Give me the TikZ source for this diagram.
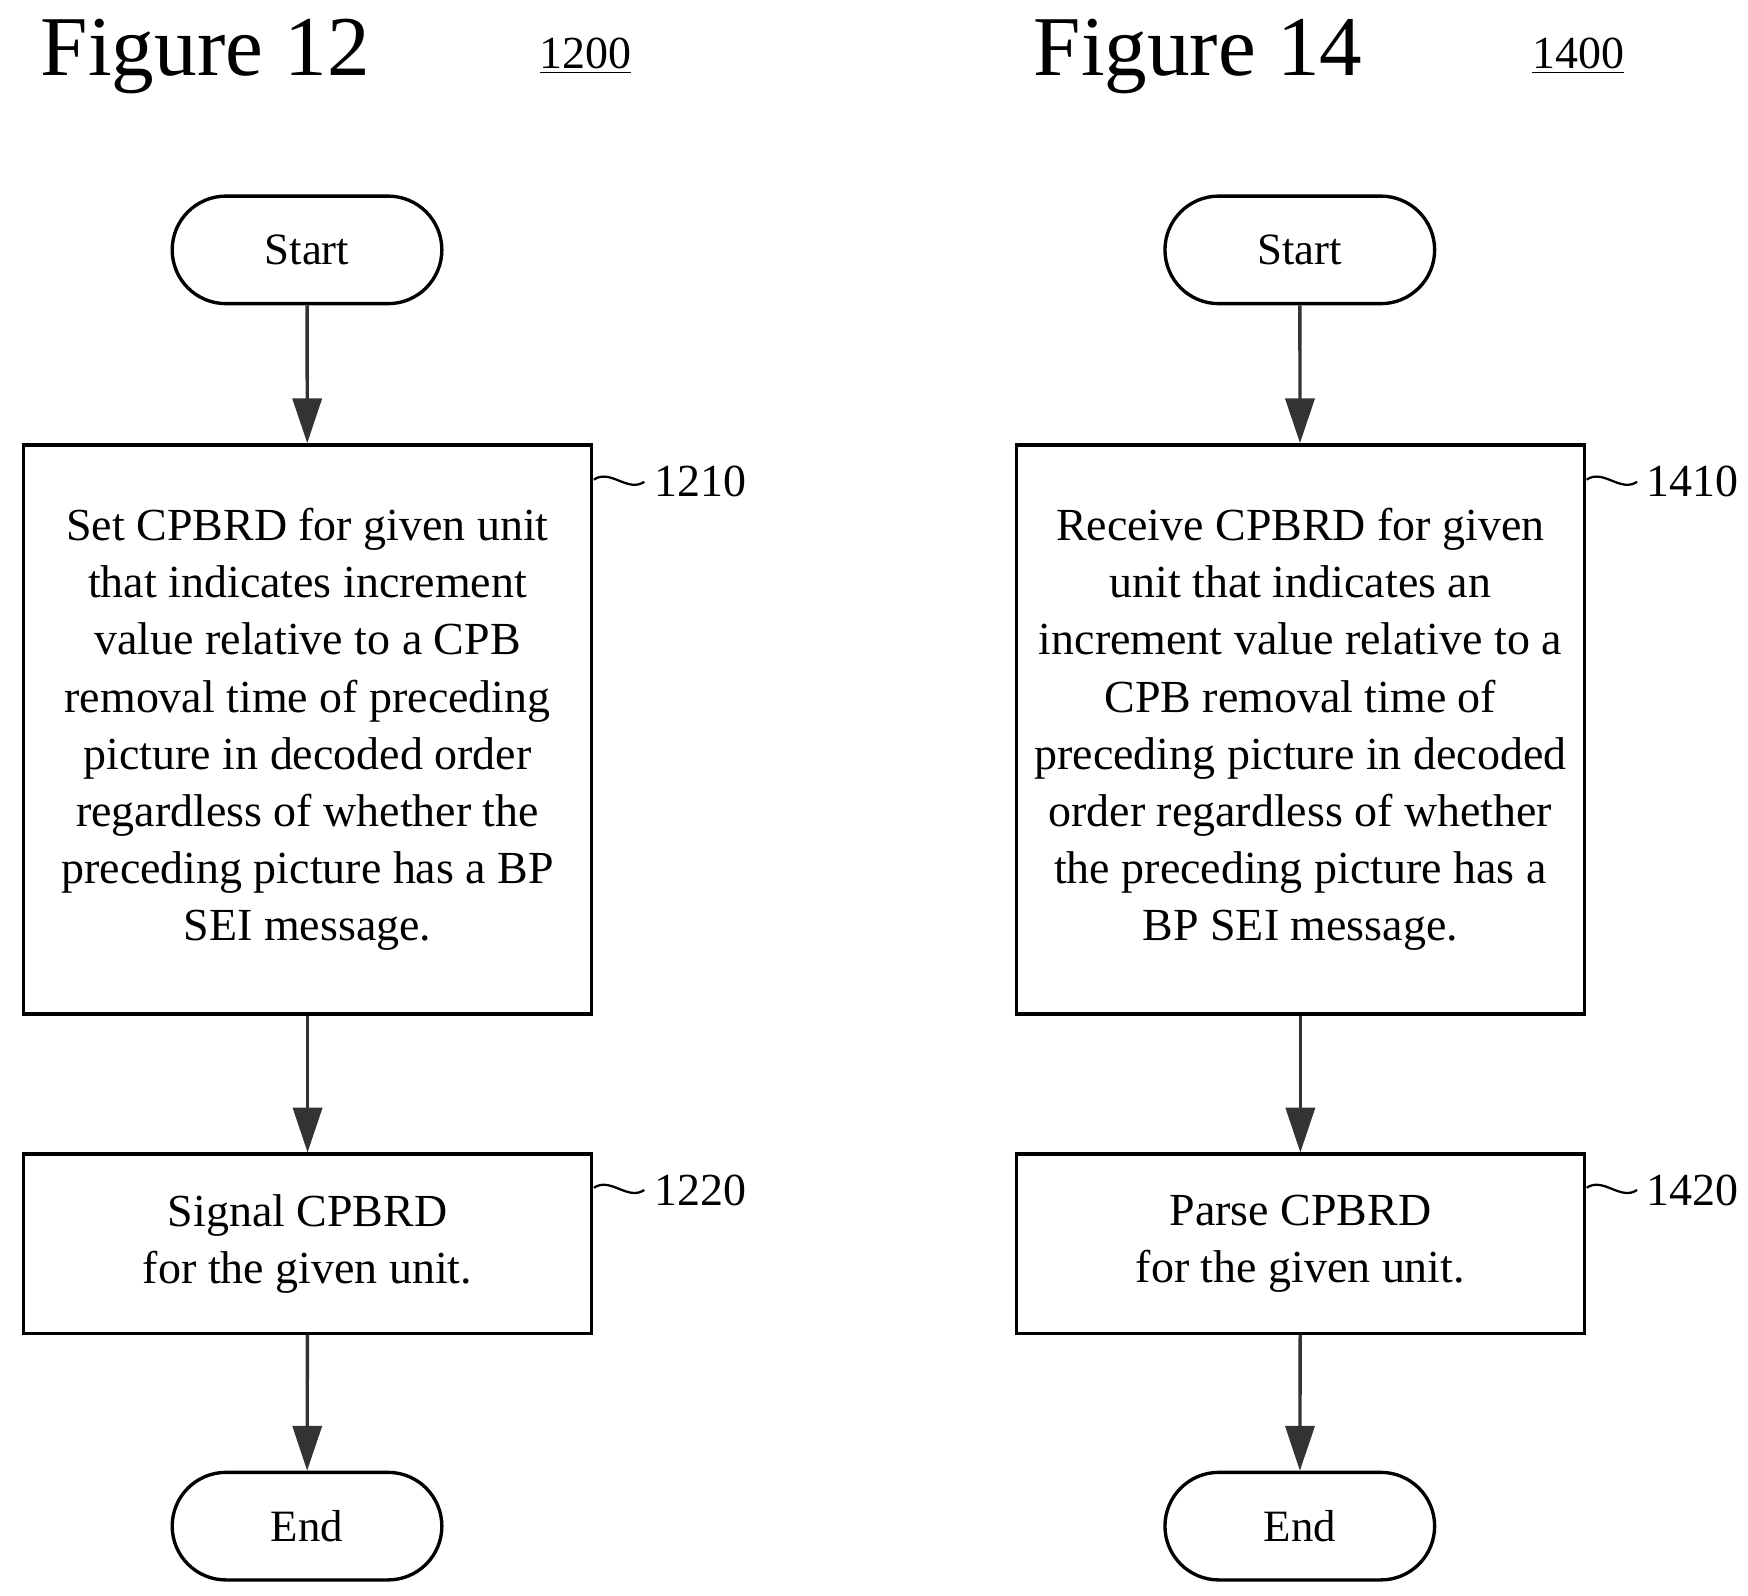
\documentclass[tikz,border=0pt]{standalone}
\usepackage{fontspec}
\setmainfont{Liberation Serif}
\usetikzlibrary{arrows.meta,shapes.misc}
\tikzset{every picture/.style={line width=1.5pt}}
\tikzset{
  term/.style={draw,rounded rectangle,minimum width=127pt,minimum height=48pt,font=\fontsize{20}{24}\selectfont},
  procbox/.style={draw,rectangle,minimum width=253.5pt,align=center,inner sep=0pt,font=\fontsize{20.5}{25.5}\selectfont},
  flow/.style={-{Triangle[width=13pt,length=20pt]},color=black!80},
  refnum/.style={anchor=west,inner sep=0pt,font=\fontsize{20.5}{24}\selectfont},
  title/.style={anchor=west,inner sep=0pt,font=\fontsize{38}{40}\selectfont},
}

\begin{document}
\begin{tikzpicture}[x=0.5pt,y=0.5pt,yscale=-1,xscale=1]
\useasboundingbox (0,0) rectangle (1560,1424);

% Figure 12
\node [title] (t12) at (35,50) {Figure 12};
\node [refnum] (n1200) at (480,50) {\underline{1200}};
\node [term] (s12) at (274,223) {Start};
\node [procbox,minimum height=254pt] (b1210) at (274.5,651) {Set CPBRD for given unit\\that indicates increment\\value relative to a CPB\\removal time of preceding\\picture in decoded order\\regardless of whether the\\preceding picture has a BP\\SEI message.};
\node [procbox,minimum height=80pt] (b1220) at (274.5,1110) {Signal CPBRD\\for the given unit.};
\node [term] (e12) at (274,1362) {End};
\draw [flow] (s12) -- (b1210);
\draw [flow] (b1210) -- (b1220);
\draw [flow] (b1220) -- (e12);
\node [refnum] (n1210) at (583,430) {1210};
\node [refnum] (n1220) at (583,1062) {1220};
\draw [line width=1pt] (530,428) .. controls (545,418) and (560,440) .. (575,430);
\draw [line width=1pt] (530,1060) .. controls (545,1050) and (560,1072) .. (575,1062);

% Figure 14
\node [title] (t14) at (921,50) {Figure 14};
\node [refnum] (n1400) at (1366,50) {\underline{1400}};
\node [term] (s14) at (1160,223) {Start};
\node [procbox,minimum height=254pt] (b1410) at (1160.5,651) {Receive CPBRD for given\\unit that indicates an\\increment value relative to a\\CPB removal time of\\preceding picture in decoded\\order regardless of whether\\the preceding picture has a\\BP SEI message.};
\node [procbox,minimum height=80pt] (b1420) at (1160.5,1110) {Parse CPBRD\\for the given unit.};
\node [term] (e14) at (1160,1362) {End};
\draw [flow] (s14) -- (b1410);
\draw [flow] (b1410) -- (b1420);
\draw [flow] (b1420) -- (e14);
\node [refnum] (n1410) at (1468,430) {1410};
\node [refnum] (n1420) at (1468,1062) {1420};
\draw [line width=1pt] (1416,428) .. controls (1431,418) and (1446,440) .. (1461,430);
\draw [line width=1pt] (1416,1060) .. controls (1431,1050) and (1446,1072) .. (1461,1062);

\end{tikzpicture}
\end{document}
